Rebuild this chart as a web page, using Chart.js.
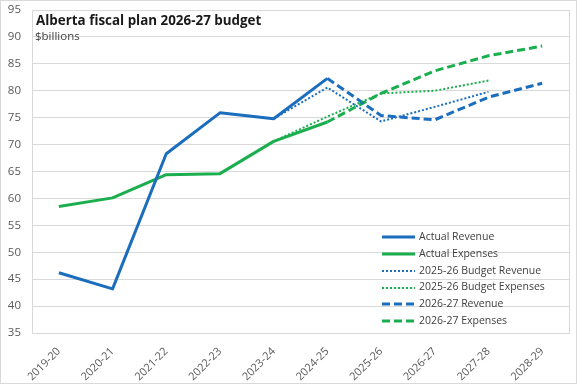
<!DOCTYPE html>
<html>
<head>
<meta charset="utf-8">
<script src="https://cdn.jsdelivr.net/npm/chart.js@4/dist/chart.umd.min.js"></script>
<style>
  html, body { margin: 0; padding: 0; background: #fff; }
  #wrap { position: relative; width: 577px; height: 384px; overflow: hidden; }
  #chart { position: absolute; left: 0; top: 0; }
  #frame { position: absolute; left: 0; top: 0; width: 577px; height: 384px; box-sizing: border-box; border: 1px solid #d9d9d9; pointer-events: none; }
  .title { position: absolute; left: 36px; top: 11px; font: bold 13.4px "Open Sans", sans-serif; color: #1a1a1a; white-space: nowrap; }
  .sub { position: absolute; left: 35px; top: 28px; font: 11.5px "Open Sans", sans-serif; color: #404040; }
  #legend { position: absolute; left: 382px; top: 228px; font: 10.5px "Open Sans", sans-serif; color: #404040; }
  #legend div { height: 16.8px; line-height: 16.8px; white-space: nowrap; }
  #legend svg { vertical-align: middle; margin-right: 4px; }
</style>
</head>
<body>
<div id="wrap">
  <canvas id="chart" width="577" height="384"></canvas>
  <div class="title">Alberta fiscal plan 2026-27 budget</div>
  <div class="sub">$billions</div>
  <div id="legend"></div>
  <div id="frame"></div>
</div>
<script>
'use strict';

// fiscal years on the x axis
const years = ['2019-20', '2020-21', '2021-22', '2022-23', '2023-24', '2024-25', '2025-26', '2026-27', '2027-28', '2028-29'];

// $billions
const actualRevenue   = [46.2, 43.2, 68.3, 75.9, 74.8, 82.3, null, null, null, null];
const actualExpenses  = [58.5, 60.1, 64.4, 64.6, 70.6, 74.2, null, null, null, null];
const budget26Revenue  = [null, null, null, null, 74.8, 80.6, 74.3, 77.0, 79.8, null];
const budget26Expenses = [null, null, null, null, 70.6, 75.2, 79.5, 80.0, 81.9, null];
const plan27Revenue   = [null, null, null, null, null, 82.3, 75.4, 74.6, 78.8, 81.4];
const plan27Expenses  = [null, null, null, null, null, 74.2, 79.5, 83.7, 86.5, 88.3];

const yTicks = [35, 40, 45, 50, 55, 60, 65, 70, 75, 80, 85, 90, 95];

const BLUE = '#1a6ebd';
const GREEN = '#1bae4f';

function line(label, data, color, kind) {
  let width = 3, dash = [];
  if (kind === 'dot') { width = 2; dash = [2, 2]; }
  if (kind === 'dash') { width = 3; dash = [8, 4]; }
  return {
    label: label,
    data: data,
    borderColor: color,
    backgroundColor: color,
    borderWidth: width,
    borderDash: dash,
    borderCapStyle: 'butt',
    borderJoinStyle: 'round',
    pointRadius: 0,
    tension: 0,
    spanGaps: false,
    fill: false
  };
}

const datasets = [
  line('Actual Revenue', actualRevenue, BLUE, 'solid'),
  line('Actual Expenses', actualExpenses, GREEN, 'solid'),
  line('2025-26 Budget Revenue', budget26Revenue, BLUE, 'dot'),
  line('2025-26 Budget Expenses', budget26Expenses, GREEN, 'dot'),
  line('2026-27 Revenue', plan27Revenue, BLUE, 'dash'),
  line('2026-27 Expenses', plan27Expenses, GREEN, 'dash')
];

// right edge of the plot box
const boxPlugin = {
  id: 'box',
  afterDraw(chart) {
    const a = chart.chartArea, ctx = chart.ctx;
    ctx.save();
    ctx.strokeStyle = '#d9d9d9';
    ctx.lineWidth = 1;
    ctx.beginPath();
    ctx.moveTo(Math.round(a.right) + 0.5, a.top);
    ctx.lineTo(Math.round(a.right) + 0.5, a.bottom);
    ctx.stroke();
    ctx.restore();
  }
};

const chart = new Chart(document.getElementById('chart'), {
  type: 'line',
  data: { labels: years, datasets: datasets },
  options: {
    responsive: false,
    animation: false,
    layout: { padding: { top: 10, right: 8, left: 0, bottom: 0 } },
    plugins: { legend: { display: false }, tooltip: { enabled: false } },
    scales: {
      x: {
        offset: true,
        grid: { display: false },
        border: { display: true, color: '#d9d9d9' },
        ticks: { minRotation: 45, maxRotation: 45, color: '#595959', font: { family: 'Open Sans', size: 11 }, padding: 4 },
        afterFit(scale) { scale.height = 51; }
      },
      y: {
        min: 35,
        max: 95,
        afterBuildTicks(scale) { scale.ticks = yTicks.map(v => ({ value: v })); },
        grid: { color: '#d9d9d9', drawTicks: false },
        border: { display: true, color: '#d9d9d9' },
        ticks: { color: '#595959', font: { family: 'Open Sans', size: 11.5 }, padding: 11 },
        afterFit(scale) { scale.width = 32; scale.paddingTop = 0; scale.paddingBottom = 0; }
      }
    }
  },
  plugins: [boxPlugin]
});

// legend, built from the datasets
const legend = document.getElementById('legend');
datasets.forEach(ds => {
  const row = document.createElement('div');
  const dash = ds.borderDash.length ? ds.borderDash.join(' ') : 'none';
  row.innerHTML = '<svg width="33" height="6"><line x1="0" y1="3" x2="33" y2="3" stroke="' + ds.borderColor +
    '" stroke-width="' + ds.borderWidth + '" stroke-dasharray="' + dash + '"/></svg>' + ds.label;
  legend.appendChild(row);
});
</script>
</body>
</html>
